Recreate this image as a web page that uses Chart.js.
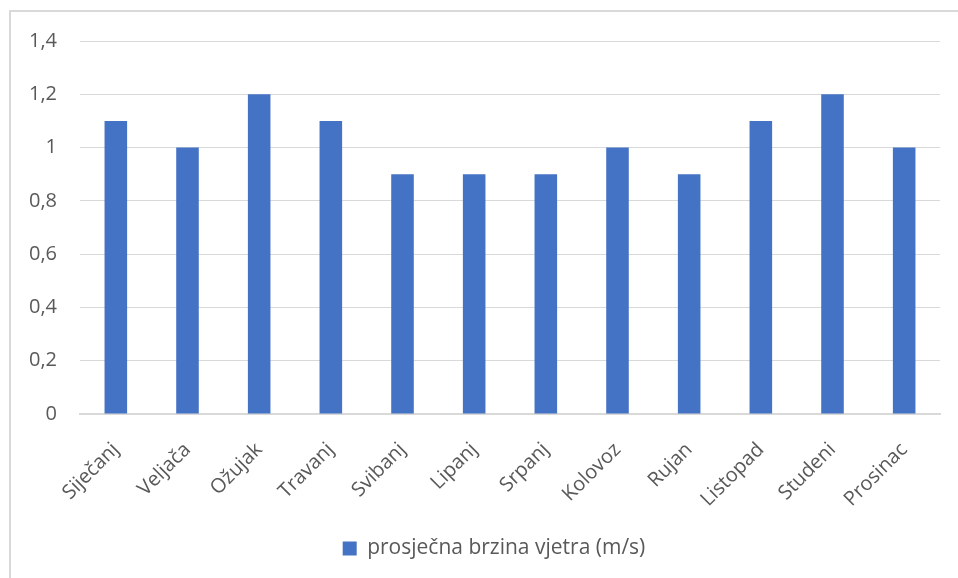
<!DOCTYPE html>
<html>
<head>
<meta charset="utf-8">
<script src="https://cdn.jsdelivr.net/npm/chart.js@4"></script>
<style>
  body { margin: 0; background: #fff; }
  #frame { position: absolute; left: 9px; top: 10px; width: 1000px; height: 600px;
           border-left: 2px solid #d9d9d9; border-top: 2px solid #d9d9d9; }
  #wrap { position: absolute; left: 0; top: 0; width: 958px; height: 578px; }
</style>
</head>
<body>
<div id="frame"></div>
<div id="wrap"><canvas id="myChart" width="958" height="578"></canvas></div>
<script>
// mjeseci i prosječna brzina vjetra
const months = ['Siječanj', 'Veljača', 'Ožujak', 'Travanj', 'Svibanj', 'Lipanj',
                'Srpanj', 'Kolovoz', 'Rujan', 'Listopad', 'Studeni', 'Prosinac'];
const windSpeed = [1.1, 1.0, 1.2, 1.1, 0.9, 0.9, 0.9, 1.0, 0.9, 1.1, 1.2, 1.0];
const seriesName = 'prosječna brzina vjetra (m/s)';
const yTicks = [0, 0.2, 0.4, 0.6, 0.8, 1, 1.2, 1.4];

const fontFamily = '"Open Sans", sans-serif';
const ctx = document.getElementById('myChart').getContext('2d');

// legenda je centrirana ispod područja grafa, ne ispod cijelog platna
const shiftLegend = {
    id: 'shiftLegend',
    afterLayout(chart) {
        chart.legend.left += 24;
        chart.legend.right += 24;
    }
};

let myChart = new Chart(ctx, {
    type: 'bar',
    data: {
        labels: months,
        datasets: [{
            label: seriesName,
            data: windSpeed,
            backgroundColor: '#4472c4',
            barPercentage: 0.315,
            categoryPercentage: 1
        }]
    },
    options: {
        responsive: false,
        animation: false,
        layout: { padding: { top: 41, left: 0, right: 18, bottom: 9 } },
        plugins: {
            tooltip: { enabled: false },
            legend: {
                position: 'bottom',
                labels: {
                    color: '#595959',
                    font: { family: fontFamily, size: 21 },
                    boxWidth: 14,
                    boxHeight: 14,
                    padding: 10
                }
            }
        },
        scales: {
            x: {
                grid: { display: false, drawTicks: false },
                border: { color: '#d9d9d9', width: 2 },
                ticks: {
                    color: '#595959',
                    font: { family: fontFamily, size: 20 },
                    minRotation: 45,
                    maxRotation: 45,
                    padding: 24
                },
                afterFit: s => { s.height = 114; }
            },
            y: {
                min: 0,
                max: 1.4,
                afterBuildTicks: s => { s.ticks = yTicks.map(v => ({ value: v })); },
                grid: { color: '#d9d9d9', lineWidth: 1, drawTicks: false },
                border: { display: false },
                ticks: {
                    color: '#595959',
                    font: { family: fontFamily, size: 20 },
                    padding: 23,
                    callback: v => String(Number(v.toFixed(1))).replace('.', ',')
                },
                afterFit: s => { s.width = 80; }
            }
        }
    },
    plugins: [shiftLegend]
});
</script>
</body>
</html>
